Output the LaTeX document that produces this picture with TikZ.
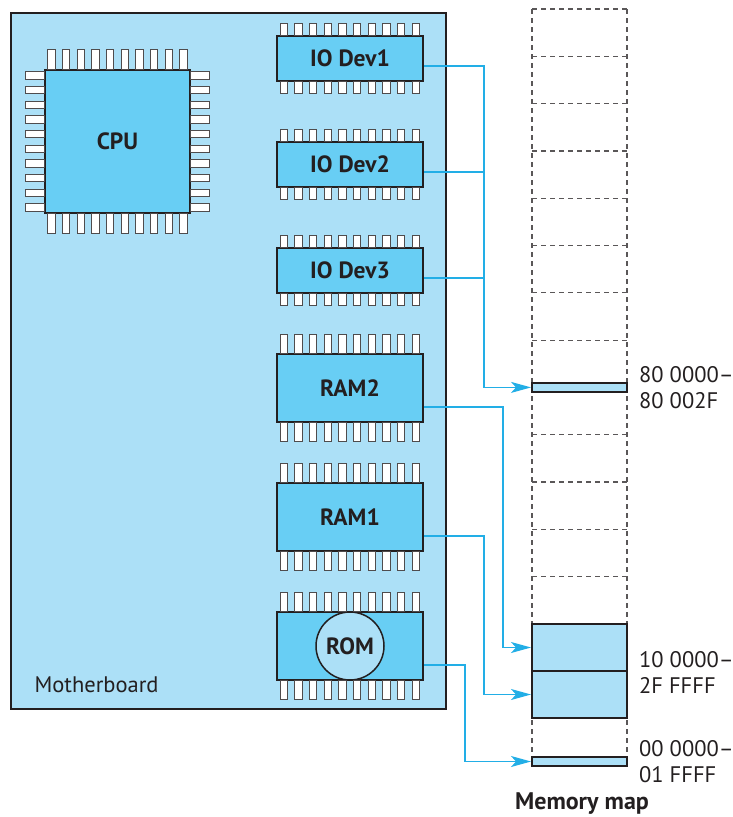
\documentclass[tikz,border=0pt]{standalone}
\usepackage{fontspec}
\setmainfont{PT Sans}
\usepackage{tikz}
\usetikzlibrary{arrows.meta,positioning,calc}
\definecolor{BoardBlue}{HTML}{ACE0F7}
\definecolor{ChipBlue}{HTML}{68CEF4}
\definecolor{WireBlue}{HTML}{22AEE6}
\definecolor{InkDark}{HTML}{231F20}

\begin{document}
\begin{tikzpicture}[x=1pt, y=-1pt,
    board/.style={draw=InkDark, line width=2.5pt, fill=BoardBlue, minimum width=435pt,
      minimum height=696pt, inner sep=0pt},
    chip/.style={draw=InkDark, line width=1.5pt, fill=ChipBlue, minimum width=146pt,
      minimum height=45pt, inner sep=0pt, text=InkDark, font=\fontsize{23.5}{26}\selectfont\bfseries},
    tallchip/.style={chip, minimum height=68pt},
    pin/.style={draw=InkDark!80, line width=1pt, fill=white},
    cell/.style={draw=InkDark!75, line width=1.2pt, dash pattern=on 5pt off 4pt},
    block/.style={draw=InkDark, line width=2pt, fill=BoardBlue, minimum width=95pt, inner sep=0pt},
    link/.style={draw=WireBlue, line width=1.3pt},
    arrow/.style={link, -{Stealth[length=20pt, width=11pt, inset=5pt]}},
    addr/.style={right, xshift=11pt, inner sep=0pt, align=left, text=InkDark,
      font=\fontsize{22.5}{26}\selectfont},
    node distance=59.5pt
  ]
    \useasboundingbox (0,0) rectangle (733,817);
    \node[board] (board) at (228.5,361) {};
    \node[anchor=base west, text=InkDark, font=\fontsize{22.5}{26}\selectfont] (boardname) at (31,692) {Motherboard};
    \node[chip, minimum width=145pt, minimum height=143pt] (cpu) at (117.5,141.5) {CPU};
    \foreach \k in {0,...,9} {
      \draw[pin] ($(cpu.north)+(\k*14.67-69.7,0)$) rectangle ++(7.3,-19.5);
      \draw[pin] ($(cpu.south)+(\k*14.67-69.7,0)$) rectangle ++(7.3,19.5);
      \draw[pin] ($(cpu.west)+(0,\k*14.67-69.7)$) rectangle ++(-19,7.3);
      \draw[pin] ($(cpu.east)+(0,\k*14.67-69.7)$) rectangle ++(19,7.3);
    }
    \node[chip] (io1) at (350,58.5) {IO Dev1};
    \node[chip, below=of io1] (io2) {IO Dev2};
    \node[chip, below=of io2] (io3) {IO Dev3};
    \node[tallchip, below=of io3] (ram2) {RAM2};
    \node[tallchip, below=of ram2] (ram1) {RAM1};
    \node[tallchip, below=of ram1] (rom) {};
    \node[chip, circle, fill=BoardBlue, minimum size=68pt] (romdisc) at (rom) {ROM};
    \foreach \c/\h in {io1/12, io2/12, io3/12, ram2/19, ram1/19, rom/19} {
      \foreach \k in {0,...,9} {
        \draw[pin] ($(\c.north)+(\k*14.67-69.7,0)$) rectangle ++(7.3,-\h);
        \draw[pin] ($(\c.south)+(\k*14.67-69.7,0)$) rectangle ++(7.3,\h);
      }
    }
    \foreach \k in {0,...,7,9,10,11,12}
      \draw[cell] (532,{9+47.3*\k}) -- (627,{9+47.3*\k});
    \draw[cell] (532,9) -- (532,757);
    \draw[cell] (627,9) -- (627,757);
    \node[block, minimum height=8.5pt] (iomem) at (579.5,387.4) {};
    \node[block, minimum height=47pt] (ram2mem) at (579.5,647.5) {};
    \node[block, minimum height=47pt] (ram1mem) at (579.5,694.5) {};
    \node[block, minimum height=8.5pt] (rommem) at (579.5,761.5) {};
    \node[addr] (iolabel) at (iomem.east) {80 0000–\\80 002F};
    \node[addr] (ramlabel) at (ram2mem.south east) {10 0000–\\2F FFFF};
    \node[addr] (romlabel) at (rommem.east) {00 0000–\\01 FFFF};
    \node[anchor=base, text=InkDark, font=\fontsize{24}{26}\selectfont\bfseries] (maptitle) at (582,809) {Memory map};
    \draw[arrow] ([yshift=-7.5pt]io1.east) -- ++(60.3,0) |- (iomem.west);
    \draw[link] ([yshift=-7.5pt]io2.east) -- ++(60.3,0);
    \draw[link] ([yshift=-7.5pt]io3.east) -- ++(60.3,0);
    \draw[arrow] ([yshift=-19pt]ram2.east) -- ++(79.3,0) |- (ram2mem.west);
    \draw[arrow] ([yshift=-19pt]ram1.east) -- ++(60.3,0) |- (ram1mem.west);
    \draw[arrow] ([yshift=-19pt]rom.east) -- ++(41.3,0) |- (rommem.west);
  \end{tikzpicture}
\end{document}
